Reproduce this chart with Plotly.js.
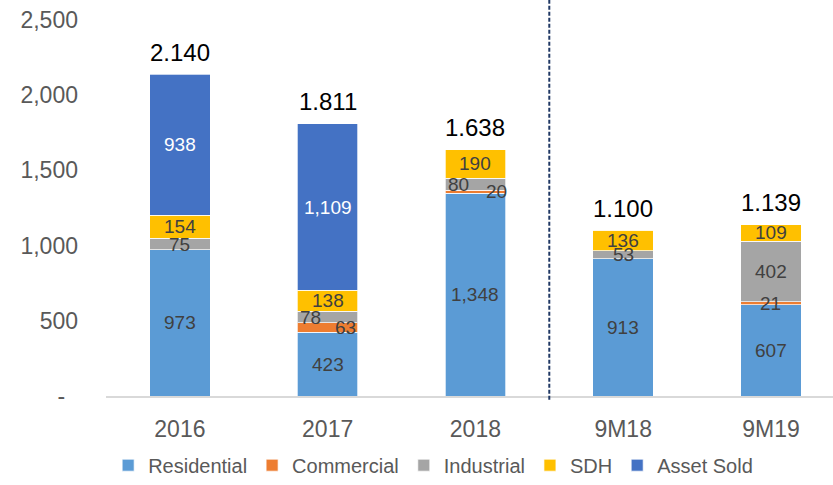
<!DOCTYPE html>
<html>
<head>
<meta charset="utf-8">
<script src="https://cdn.plot.ly/plotly-3.0.1.min.js"></script>
<style>html,body{margin:0;padding:0;background:#fff;}#chart{width:833px;height:485px;}</style>
</head>
<body>
<div id="chart"></div>
<script>
const categories = ['2016', '2017', '2018', '9M18', '9M19'];
const residential = [973, 423, 1348, 913, 607];
const commercial = [0, 63, 20, 0, 21];
const industrial = [75, 78, 80, 53, 402];
const sdh = [154, 138, 190, 136, 109];
const assetSold = [938, 1109, 0, 0, 0];
const totals = [2140, 1811, 1638, 1100, 1139];
const totalLabels = ['2.140', '1.811', '1.638', '1.100', '1.139'];
const yTickVals = [0, 500, 1000, 1500, 2000, 2500];
const yTickText = ['-\u00a0\u00a0', '500', '1,000', '1,500', '2,000', '2,500'];

const seriesNames = ['Residential', 'Commercial', 'Industrial', 'SDH', 'Asset Sold'];
const seriesValues = [residential, commercial, industrial, sdh, assetSold];
const seriesColors = ['#5B9BD5', '#ED7D31', '#A5A5A5', '#FFC000', '#4472C4'];
const labelColors = ['#404040', '#404040', '#404040', '#404040', '#FFFFFF'];
// horizontal label nudges (px) per series per category, styling only
const labelXShift = [
  [0, 0, 0, 0, 0],
  [0, 18, 21, 0, 0],
  [0, -17, -17, 0, 0],
  [0, 0, 0, 0, 0],
  [0, 0, 0, 0, 0]
];

const fmt = v => v.toLocaleString('en-US');

const traces = seriesNames.map((name, i) => ({
  type: 'bar',
  name: name,
  x: categories,
  y: seriesValues[i],
  marker: {color: seriesColors[i], line: {color: 'rgba(255,255,255,0.7)', width: 1}},
  width: 0.41,
  hoverinfo: 'none'
}));

const annotations = [];
const base = categories.map(() => 0);
seriesValues.forEach((vals, i) => {
  vals.forEach((v, j) => {
    if (v > 0) {
      annotations.push({
        x: j, y: base[j] + v / 2, xref: 'x', yref: 'y',
        text: fmt(v), showarrow: false, xshift: labelXShift[i][j],
        font: {family: 'Liberation Sans, Arial, sans-serif', size: 19, color: labelColors[i]}
      });
    }
    base[j] += v;
  });
});
totals.forEach((t, j) => {
  annotations.push({
    x: j, y: t, xref: 'x', yref: 'y', text: totalLabels[j],
    showarrow: false, yanchor: 'middle', yshift: 22,
    font: {family: 'Liberation Sans, Arial, sans-serif', size: 24, color: '#000000'}
  });
});

const layout = {
  width: 833, height: 485,
  margin: {l: 106, r: 0, t: 20, b: 84},
  barmode: 'stack',
  paper_bgcolor: '#ffffff', plot_bgcolor: '#ffffff',
  font: {family: 'Liberation Sans, Arial, sans-serif', color: '#595959'},
  xaxis: {
    type: 'category',
    range: [-0.5, 4.42], showgrid: false, zeroline: false,
    showline: true, linecolor: '#D9D9D9', linewidth: 1.5,
    ticks: '', ticklabelstandoff: 12,
    tickfont: {size: 23, color: '#595959'}
  },
  yaxis: {
    range: [0, 2500], showgrid: false, zeroline: false, showline: false,
    tickvals: yTickVals, ticktext: yTickText, ticks: '', ticklabelstandoff: 27,
    tickfont: {size: 23, color: '#595959'}
  },
  showlegend: true,
  legend: {
    orientation: 'h', x: 0.45, xanchor: 'center', y: -0.184, yanchor: 'middle',
    font: {family: 'Liberation Sans, Arial, sans-serif', size: 20, color: '#595959'},
    itemwidth: 30, traceorder: 'normal'
  },
  annotations: annotations,
  shapes: [{
    type: 'line', xref: 'x', yref: 'paper', x0: 2.5, x1: 2.5, y0: -0.01, y1: 1.06,
    line: {color: '#203864', width: 2, dash: '4px,2px'}
  }]
};

Plotly.newPlot('chart', traces, layout, {staticPlot: true, displayModeBar: false});
</script>
</body>
</html>
